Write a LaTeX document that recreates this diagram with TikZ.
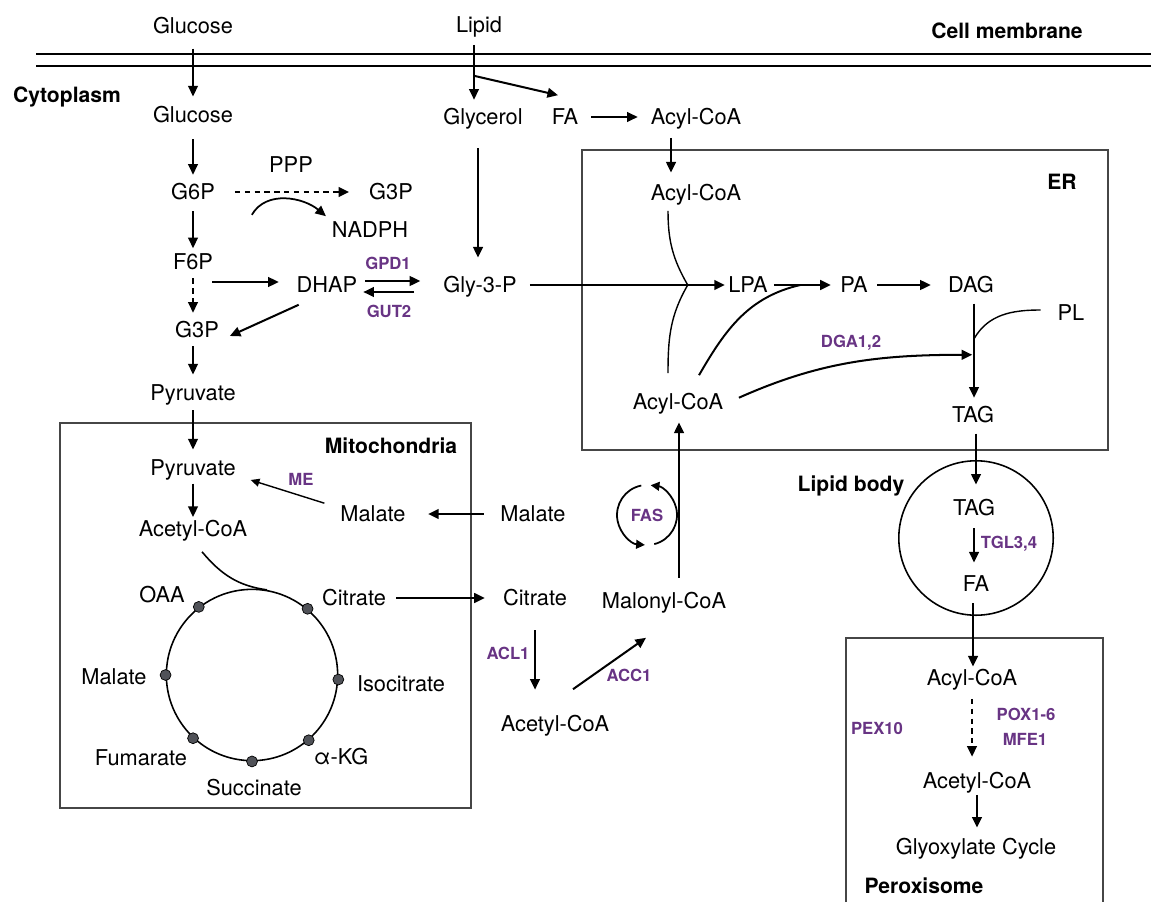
\documentclass[tikz,border=0pt]{standalone}
\usepackage{fontspec}
\setmainfont{TeX Gyre Heros}
\usetikzlibrary{arrows.meta,positioning,calc}
\definecolor{enzpurple}{RGB}{104,52,132}
\definecolor{dotgray}{RGB}{80,82,88}
\definecolor{boxgray}{RGB}{70,70,70}

\begin{document}
\begin{tikzpicture}[
  x=0.02cm,y=0.02cm,
  met/.style={font=\fontsize{12.4}{14}\selectfont,inner sep=3.25pt,text height=8.8pt,text depth=0pt},
  enz/.style={font=\fontsize{9.5}{11}\selectfont\bfseries,text=enzpurple,inner sep=1pt},
  ttl/.style={font=\fontsize{12}{14}\selectfont\bfseries,inner sep=1pt},
  arr/.style={-{Triangle[length=6pt,width=5.5pt]},line width=1.15pt,shorten <=4pt,shorten >=2pt},
  darr/.style={arr,dash pattern=on 3pt off 2.6pt},
  link/.style={line width=0.8pt},
  comp/.style={draw=boxgray,line width=0.6pt},
  organelle/.style={circle,draw,line width=0.9pt,inner sep=0pt},
  tcadot/.style={circle,draw=black,fill=dotgray,line width=0.4pt,inner sep=0pt,minimum size=6.2pt}
]
\useasboundingbox (0,0) rectangle (1151,-902);

\draw[line width=1.1pt] (36,-54) -- (1151,-54);
\draw[line width=1.1pt] (36,-66) -- (1151,-66);
\draw[comp] (582,-150) rectangle (1108,-450);
\draw[comp] (60,-423) rectangle (471,-808);
\draw[comp] (846,-902) |- (1103,-638) -- (1103,-902);

\node[organelle,minimum size=87.9pt] (lbody) at (976,-538) {};
\node[organelle,minimum size=97.5pt] (tca) at (252,-675) {};

\node[ttl] (cellmem) at (1007,-31) {Cell membrane};
\node[ttl] (cyto) at (67,-97) {Cytoplasm};
\node[ttl] (mito) at (391,-446) {Mitochondria};
\node[ttl] (ertitle) at (1062,-182) {ER};
\node[ttl] (lbtitle) at (851,-486) {Lipid body};
\node[ttl] (perox) at (924,-886) {Peroxisome};

\node[met] (glcout) at (193,-26) {Glucose};
\node[met] (glc) at (193,-115) {Glucose};
\node[met] (lipid) at (479,-25) {Lipid};
\node[met] (glycerol) at (483,-117) {Glycerol};
\node[met] (fa) at (565,-117) {FA};
\node[met] (acyl1) at (696,-117) {Acyl-CoA};
\node[met] (g6p) at (193,-192) {G6P};
\node[met] (ppp) at (291,-165) {PPP};
\node[met] (g3pa) at (391,-192) {G3P};
\node[met] (nadph) at (370,-230) {NADPH};
\node[met] (f6p) at (193,-262) {F6P};
\node[met] (dhap) at (327,-285) {DHAP};
\node[met] (g3p) at (197,-330) {G3P};
\node[met] (gly3p) at (480,-285) {Gly-3-P};
\node[met] (pyr) at (193,-393) {Pyruvate};
\node[enz] (gpd) at (388,-263) {GPD1};
\node[enz] (gut) at (389,-311) {GUT2};

\node[met] (acyl2) at (696,-193) {Acyl-CoA};
\node[met] (lpa) at (748,-285) {LPA};
\node[met] (pa) at (854,-285) {PA};
\node[met] (dag) at (971,-285) {DAG};
\node[met] (pl) at (1071,-313) {PL};
\node[met] (tag1) at (973,-415) {TAG};
\node[met] (acyl3) at (678,-402) {Acyl-CoA};
\node[enz] (dga) at (851,-343) {DGA1,2};

\node[met] (tag2) at (974,-508) {TAG};
\node[met] (fa2) at (976,-584) {FA};
\node[enz] (tgl) at (1009,-544) {TGL3,4};

\node[met] (acyl4) at (972,-678) {Acyl-CoA};
\node[met] (acetyl4) at (977,-781) {Acetyl-CoA};
\node[met] (glyox) at (976,-847) {Glyoxylate Cycle};
\node[enz] (pox) at (1026,-714) {POX1-6};
\node[enz] (mfe) at (1025,-739) {MFE1};
\node[enz] (pex) at (877,-728) {PEX10};

\node[met] (pyrm) at (193,-468) {Pyruvate};
\node[met] (acetm) at (193,-529) {Acetyl-CoA};
\node[met] (malm) at (373,-514) {Malate};
\node[enz] (me) at (301,-479) {ME};
\node[met] (oaa) at (162,-595) {OAA};
\node[met] (citm) at (354,-598) {Citrate};
\node[met] (isocit) at (401,-684) {Isocitrate};
\node[met] (akg) at (341,-757) {α-KG};
\node[met] (succ) at (254,-788) {Succinate};
\node[met] (fum) at (141,-758) {Fumarate};
\node[met] (malt) at (114,-677) {Malate};
\foreach \ang in {128,50,-3,-49,-90,-133,180}
  \node[tcadot] (dot\ang) at (tca.\ang) {};

\node[met] (malc) at (533,-514) {Malate};
\node[met] (citc) at (535,-598) {Citrate};
\node[met] (acetc) at (555,-724) {Acetyl-CoA};
\node[met] (malon) at (664,-601) {Malonyl-CoA};
\node[enz] (acl) at (508,-653) {ACL1};
\node[enz] (acc) at (629,-675) {ACC1};
\node[enz] (fas) at (647,-515) {FAS};

\draw[arr,shorten <=5pt,shorten >=2.7pt] (glcout) -- (glc);
\draw[arr,shorten <=6pt] (glc) -- (g6p);
\draw[arr,shorten <=3pt,shorten >=0pt] (g6p) -- (f6p);
\coordinate (liptop) at ($(lipid.south)+(-5,-6)$);
\coordinate (lipsplit) at ($(liptop)+(0,-31)$);
\draw[arr,shorten <=0pt] (liptop) -- (liptop |- glycerol.north);
\draw[arr,shorten <=0pt,shorten >=0pt] (lipsplit) -- ($(fa.north)+(-7,8)$);
\draw[arr,shorten >=4pt] (fa) -- (acyl1);
\coordinate (acyldrop) at ($(acyl1.south)+(-25,0)$);
\draw[arr,shorten >=3.8pt] (acyldrop) -- (acyldrop |- acyl2.north);
\draw[darr,shorten <=8pt,shorten >=8pt] (g6p) -- (g3pa);
\coordinate (pppfrom) at ($(g6p.south east)+(31,-9)$);
\draw[arr,line width=1pt,shorten <=0pt,shorten >=0pt] (pppfrom) to[out=60,in=140] (nadph.north west);
\draw[darr,shorten <=1.5pt,shorten >=2pt] (f6p) -- (f6p |- g3p.north);
\draw[arr,shorten <=0pt,shorten >=6.8pt] ($(f6p.east |- dhap.west)+(-7,3)$) -- ($(dhap.west)+(0,3)$);
\draw[arr,shorten <=0pt,shorten >=0pt] ($(dhap.east)+(2,4)$) -- ($(gly3p.west)+(-17,4)$);
\draw[arr,shorten <=0pt,shorten >=0pt] ($(gly3p.west)+(-23,-7)$) -- ($(dhap.east)+(0,-7)$);
\draw[arr,shorten <=0pt,shorten >=0pt] ($(dhap.south west)+(8,-6)$) -- ($(g3p.east)+(5,-6)$);
\draw[arr,shorten <=10pt,shorten >=7.8pt] ($(glycerol.south)+(-5,0)$) -- ($(gly3p.north)+(-2,0)$);
\draw[arr,shorten >=-1.5pt] (gly3p) -- (lpa);
\draw[arr,shorten <=0pt] (lpa) -- (pa);
\draw[arr,shorten <=2pt,shorten >=6.5pt] (pa) -- (dag);

\coordinate (lpaj) at ($(lpa.west)+(-34.5,0)$);
\coordinate (paj) at ($(pa.west)+(-34,0)$);
\draw[link] ($(acyl2.south)+(-28,-4)$) to[out=-90,in=120] (lpaj);
\draw[link] (lpaj) to[out=-120,in=90] ($(acyl3.north)+(-10,15)$);
\draw[link,line width=1.1pt] ($(acyl3.north)+(21,13)$) to[out=60,in=193] (paj);

\coordinate (dagdrop) at ($(dag.south)+(3,0)$);
\coordinate (plj) at ($(dagdrop)+(0,-40)$);
\coordinate (dgaj) at ($(dagdrop)+(0,-56)$);
\draw[arr,shorten <=2.7pt] (dagdrop) -- (dagdrop |- tag1.north);
\draw[link] ($(pl.west)+(-11,3)$) to[out=180,in=60] (plj);
\draw[arr,shorten <=6pt,shorten >=1pt] (acyl3.east) to[out=24,in=180] (dgaj);

\coordinate (tagdrop) at ($(tag1.south)+(3,0)$);
\draw[arr,shorten <=2.7pt,shorten >=5.5pt] (tagdrop) -- (tagdrop |- tag2.north);
\draw[arr,shorten <=3.8pt,shorten >=4.4pt] (tag2) -- (tag2 |- fa2.north);
\coordinate (fadrop) at ($(fa2.south)+(-3,0)$);
\draw[arr,shorten <=3.2pt,shorten >=-1.3pt] (fadrop) -- (fadrop |- acyl4.north);
\draw[darr,shorten >=6pt] (acyl4) -- (acyl4 |- acetyl4.north);
\draw[arr,shorten <=0pt,shorten >=3.2pt] (acetyl4) -- (acetyl4 |- glyox.north);

\draw[arr,shorten <=1.5pt,shorten >=2.7pt] (g3p.south -| pyr.north) -- (pyr.north);
\draw[arr,shorten <=2pt,shorten >=2.7pt] (pyr) -- (pyrm);
\draw[arr,shorten <=1pt,shorten >=-1pt] (pyrm) -- (acetm);
\draw[arr,line width=0.8pt,-{Triangle[length=5pt,width=4.5pt]},shorten <=0pt,shorten >=0pt] ($(malm.north west)+(-10,-3)$) -- ($(pyrm.east)+(9,-12)$);
\draw[arr,shorten <=6pt,shorten >=9.4pt] (malc) -- (malm);
\draw[arr,shorten <=2.4pt,shorten >=7pt] (citm) -- (citc);
\draw[arr,shorten <=10.6pt,shorten >=11.7pt] (citc) -- (citc |- acetc.north);
\draw[arr,shorten <=0pt,shorten >=0pt] ($(acetc.north)+(18,21)$) -- ($(malon.south)+(-18,-23)$);
\coordinate (malonup) at ($(malon.north)+(15,0)$);
\draw[arr,shorten <=5.5pt,shorten >=3.8pt] (malonup) -- (malonup |- acyl3.south);

\draw[link,line width=0.9pt] ($(acetm.south)+(9,-9)$) to[out=-50,in=172] (tca.80);

\draw[arr,line width=1pt,-{Triangle[length=5pt,width=5pt]},shorten <=0pt,shorten >=0pt] ($(fas)+(101:30)$) arc[start angle=101,end angle=266,radius=30];
\draw[arr,line width=1pt,-{Triangle[length=5pt,width=5pt]},shorten <=0pt,shorten >=0pt] ($(fas)+(284:30)$) arc[start angle=284,end angle=443,radius=30];
\end{tikzpicture}
\end{document}
